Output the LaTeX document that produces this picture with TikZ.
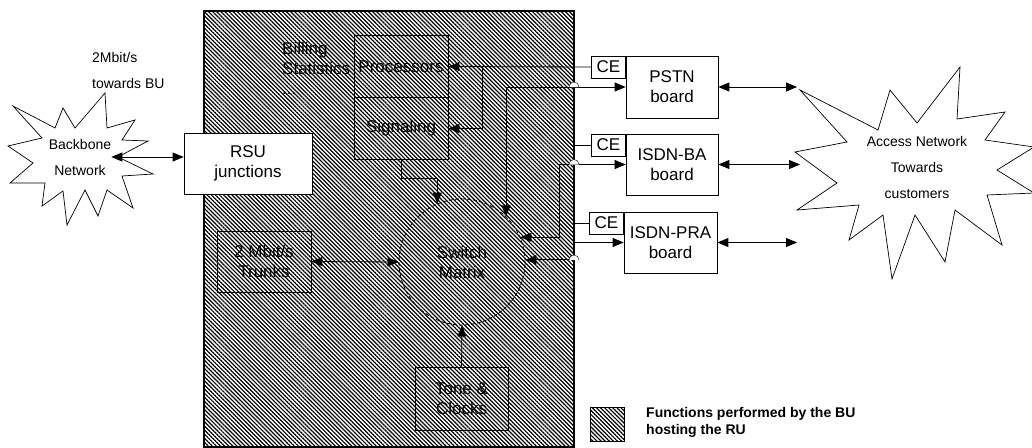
\documentclass[tikz,border=0pt]{standalone}
\usepackage{fontspec}
\setmainfont{Liberation Sans}
\usetikzlibrary{arrows.meta,patterns.meta}

\begin{document}
\begin{tikzpicture}[x=1pt, y=-1pt,
          every node/.style={font=\fontsize{17}{20}\selectfont, align=center, inner sep=0pt},
          hatch/.style={pattern={Lines[angle=-45,distance=2.9pt,line width=1.2pt]}},
          unit/.style={draw, line width=0.7pt, minimum width=94pt, minimum height=62pt},
          board/.style={draw, fill=white, line width=0.7pt, minimum width=92pt, minimum height=62pt},
          cebox/.style={draw, fill=white, line width=0.7pt, minimum width=34pt, minimum height=22pt},
          small/.style={font=\fontsize{14}{26}\selectfont},
          tip/.tip={Triangle[length=11pt,width=9pt]},
          arr/.style={-tip, line width=0.8pt},
          dbl/.style={tip-tip, line width=0.8pt}]
        % Diagram: BU functions hatched on the left half, line boards and
        % access network on the right.  Coordinates: (x, y) in pt, y runs
        % downwards from the top left corner of the 1032 x 447 page.
        \useasboundingbox (0,0) rectangle (1032,447);

        % hatched area of the BU
        \node[draw, hatch, line width=1.2pt, minimum width=370pt,
              minimum height=436pt] (bu) at (389,229) {};
        \node[anchor=north west, align=left] (billing) at (282,42)
              {Billing\\Statistics\\...};
        \node[unit] (proc) at (401,66.5) {Processors};
        \node[unit] (sig) at (401,128.5) {Signaling};
        \node[unit, minimum height=61pt] (trunks) at (264,261.5) {2 Mbit/s\\Trunks};
        \node[unit, minimum width=93pt, minimum height=63pt] (tone) at (461.5,398.5)
              {Tone \&\\Clocks};
        \node[draw, circle, dash pattern=on 4pt off 2pt, line width=0.8pt,
              minimum size=126pt] (switch) at (462,262) {Switch\\Matrix};

        % backbone side
        \draw[fill=white, line width=0.7pt] (105,93) -- (107,128) -- (135,120)
              -- (122,140) -- (148,141) -- (118,157) -- (153,174) -- (122,176)
              -- (133,208) -- (107,190) -- (98,216) -- (85,190) -- (67,225)
              -- (63,191) -- (42,206) -- (45,183) -- (10,183) -- (33,163)
              -- (8,146) -- (42,138) -- (13,106) -- (55,128) -- (63,108)
              -- (75,128) -- cycle;
        \node[small] (backbone) at (80,157) {Backbone\\Network};
        \node[small, anchor=west, align=left] (uplink) at (92,70.5)
              {2Mbit/s\\towards BU};
        \node[draw, fill=white, line width=0.7pt, minimum width=128pt,
              minimum height=61pt] (rsu) at (248,163.5) {RSU\\junctions};

        % line boards with their CE
        \node[board] (pstn) at (672,87) {PSTN\\board};
        \node[board, minimum height=61pt] (isdnba) at (672,164.5) {ISDN-BA\\board};
        \node[board, minimum width=93pt, minimum height=61pt] (isdnpra) at (670.5,242.5)
              {ISDN-PRA\\board};
        \node[cebox, anchor=north east] (ceA) at (pstn.north west) {CE};
        \node[cebox, anchor=north east] (ceB) at (isdnba.north west) {CE};
        \node[cebox, anchor=north east] (ceC) at (isdnpra.north west) {CE};

        % access network
        \draw[fill=white, line width=0.7pt] (800,90) -- (878,130) -- (890,90)
              -- (917,123) -- (960,67) -- (957,119) -- (1005,112) -- (985,140)
              -- (1034,147) -- (997,170) -- (1034,193) -- (987,195) -- (1002,245)
              -- (955,210) -- (945,262) -- (915,215) -- (892,279) -- (883,215)
              -- (849,240) -- (859,205) -- (797,210) -- (837,183) -- (795,152)
              -- (847,142) -- cycle;
        \node[small] (access) at (917,167) {Access Network\\Towards\\customers};
        \coordinate (accA) at (797,87);
        \coordinate (accB) at (800,164.5);
        \coordinate (accC) at (797,242.5);

        % connectors
        \draw[dbl] (backbone.east) -- (backbone.east -| rsu.west);
        \draw[arr] (ceA.west) -- (proc.east) coordinate[pos=0.76] (split);
        \draw[arr] (split) |- (sig.east);
        \draw (ceB.west) -- (ceB.west -| bu.east);
        \draw (ceC.west) -- (ceC.west -| bu.east);
        \draw[arr] (sig.south) -- ++(0,19) -| (switch.113);
        \draw[dbl] (trunks.east) -- (switch.west);
        \draw[arr] (tone.north) -- (switch.south);
        \draw[dbl] (pstn.west) -| (switch.46);
        \draw[dbl] (isdnba.west) -- ++(-66,0) |- (switch.23);
        \draw[dbl] (isdnpra.west) -- (isdnpra.west -| bu.east) |- (switch.2);
        \draw[dbl] (pstn.east) -- (accA);
        \draw[dbl] (isdnba.east) -- (accB);
        \draw[dbl] (isdnpra.east) -- (accC);

        % line jumps over the BU border
        \foreach \y in {87,164.5,260} {
          \fill[white] (569,\y) arc[start angle=180, end angle=360, radius=5];
          \draw[line width=0.4pt] (569,\y) arc[start angle=180, end angle=360, radius=5];
        }

        % key
        \node[draw, hatch, line width=0.7pt, minimum size=34pt] (key) at (607,424.5) {};
        \node[anchor=west, align=left, font=\bfseries\fontsize{14}{17}\selectfont]
              (keytext) at (646,422.5) {Functions performed by the BU\\hosting the RU};
      \end{tikzpicture}
\end{document}
